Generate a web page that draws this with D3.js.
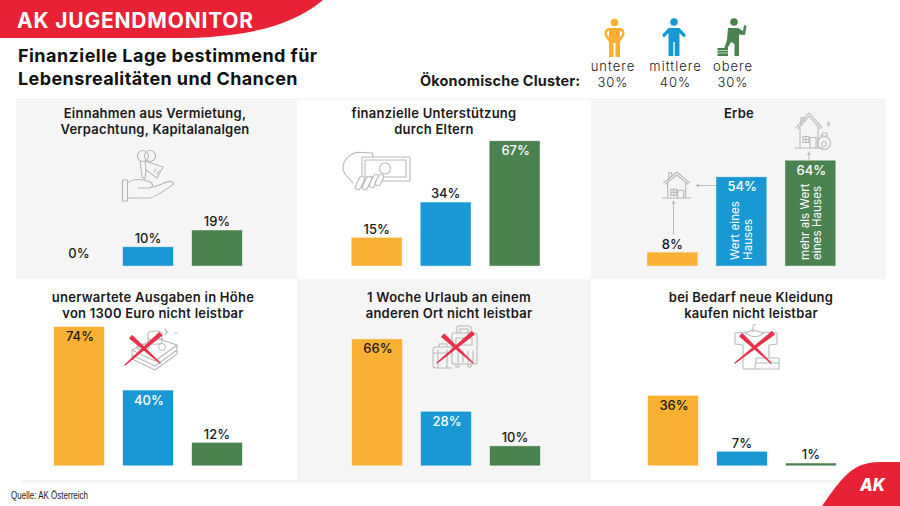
<!DOCTYPE html>
<html>
<head>
<meta charset="utf-8">
<script src="https://cdn.jsdelivr.net/npm/d3@7/dist/d3.min.js"></script>
<style>
  html, body { margin: 0; padding: 0; background: #fff; }
  svg { display: block; }
  text { font-family: Inter, "Open Sans", sans-serif; fill: #1a1a1a; }
</style>
</head>
<body>
<svg id="chart" width="900" height="506"></svg>
<script>
// Daten
const clusters = ['untere', 'mittlere', 'obere'];
const clusterShares = ['30%', '40%', '30%'];
const clusterColors = ['#fab133', '#1899d4', '#4a8350'];

const panelTitles = [
  ['Einnahmen aus Vermietung,', 'Verpachtung, Kapitalanalgen'],
  ['finanzielle Unterstützung', 'durch Eltern'],
  ['Erbe'],
  ['unerwartete Ausgaben in Höhe', 'von 1300 Euro nicht leistbar'],
  ['1 Woche Urlaub an einem', 'anderen Ort nicht leistbar'],
  ['bei Bedarf neue Kleidung', 'kaufen nicht leistbar']
];
const einnahmen = [0, 10, 19];
const unterstuetzung = [15, 34, 67];
const erbe = [8, 54, 64];
const ausgaben = [74, 40, 12];
const urlaub = [66, 28, 10];
const kleidung = [36, 7, 1];
const panelValues = [einnahmen, unterstuetzung, erbe, ausgaben, urlaub, kleidung];
// Label in den Balken?
const labelInside = [
  [false, false, false],
  [false, false, true],
  [false, true, true],
  [true, true, false],
  [true, true, false],
  [true, false, false]
];

// Layout der Felder
const layout = [
  { left: 54, base: 265.7, perCent: 1.86, titleX: 155, titleY: 118 },
  { left: 351.7, base: 265.7, perCent: 1.86, titleX: 434, titleY: 118 },
  { left: 647.3, base: 265.7, perCent: 1.64, titleX: 739, titleY: 118 },
  { left: 54, base: 465.3, perCent: 1.87, titleX: 153, titleY: 302 },
  { left: 352, base: 465.3, perCent: 1.91, titleX: 449, titleY: 302 },
  { left: 648, base: 465.3, perCent: 1.93, titleX: 751, titleY: 302 }
];

const svg = d3.select('#chart');
const grey = '#f5f5f5';
const red = '#e82134';
const iconGrey = '#b8b8b8';

// Hintergrund
svg.append('rect').attr('x', 16).attr('y', 98).attr('width', 870).attr('height', 181).attr('fill', grey);
svg.append('rect').attr('x', 297).attr('y', 100).attr('width', 294).attr('height', 179).attr('fill', '#fff');
svg.append('rect').attr('x', 297).attr('y', 279).attr('width', 294).attr('height', 204).attr('fill', grey);
svg.append('rect').attr('x', 22).attr('y', 480).attr('width', 868).attr('height', 3).attr('fill', grey);

// Kopfbereich
svg.append('path').attr('d', 'M0,0 H323 C290,28 240,38 175,38 H0 Z').attr('fill', red);
svg.append('text').attr('x', 17).attr('y', 28).text('AK JUGENDMONITOR')
  .style('fill', '#fff').style('font-size', '21px').style('font-weight', 700).style('letter-spacing', '0.8px');
svg.append('text').attr('x', 18).attr('y', 62).text('Finanzielle Lage bestimmend für')
  .style('font-size', '18px').style('font-weight', 700).style('fill', '#111').style('letter-spacing', '0.45px');
svg.append('text').attr('x', 18).attr('y', 85).text('Lebensrealitäten und Chancen')
  .style('font-size', '18px').style('font-weight', 700).style('fill', '#111').style('letter-spacing', '0.4px');
svg.append('text').attr('x', 420).attr('y', 86).text('Ökonomische Cluster:')
  .style('font-size', '14.5px').style('font-weight', 700).style('letter-spacing', '0.15px');

// Legende
const legendCentres = [613, 675.5, 733];
clusters.forEach((c, i) => {
  const g = svg.append('g').style('text-anchor', 'middle').style('font-size', '13px').style('font-weight', 300);
  g.append('text').attr('x', legendCentres[i]).attr('y', 70.5).text(c).style('letter-spacing', '1px');
  g.append('text').attr('x', legendCentres[i]).attr('y', 86.5).text(clusterShares[i]).style('letter-spacing', '1px');
});
drawPersons();

// Felder mit Balken
panelValues.forEach((values, p) => {
  const box = layout[p];
  const x = d3.scaleBand().domain(clusters).range([box.left, box.left + 188]).paddingInner(19 / 69);
  const y = d3.scaleLinear().domain([0, 100]).range([box.base, box.base - 100 * box.perCent]);
  const g = svg.append('g');

  g.selectAll('text.title').data(panelTitles[p]).enter().append('text')
    .attr('class', 'title')
    .attr('x', box.titleX)
    .attr('y', (d, i) => box.titleY + i * 15.5)
    .attr('text-anchor', 'middle')
    .text(d => d)
    .style('font-size', '13px')
    .style('font-weight', 600)
    .style('letter-spacing', '0.25px');

  g.selectAll('rect').data(values).enter().append('rect')
    .attr('x', (d, i) => x(clusters[i]))
    .attr('y', d => y(d))
    .attr('width', x.bandwidth())
    .attr('height', d => box.base - y(d))
    .attr('fill', (d, i) => clusterColors[i])
    .attr('stroke', (d, i) => clusterColors[i])
    .attr('stroke-opacity', d => d === 0 ? 0.3 : 0.5)
    .attr('stroke-width', 0.7);

  g.selectAll('text.value').data(values).enter().append('text')
    .attr('class', 'value')
    .attr('x', (d, i) => x(clusters[i]) + x.bandwidth() / 2 + (labelInside[p][i] ? 1 : 0))
    .attr('y', (d, i) => labelInside[p][i] ? y(d) + 14 : y(d) - (d === 0 ? 7.5 : 4))
    .attr('text-anchor', 'middle')
    .text(d => d + '%')
    .style('font-size', '13px')
    .style('font-weight', 500)
    .style('fill', (d, i) => labelInside[p][i] && i > 0 ? '#fff' : '#1a1a1a');
});

// Text in den Erbe-Balken
[['Wert eines', 738.5], ['Hauses', 751.5], ['mehr als Wert', 808.5], ['eines Hauses', 821]].forEach(t => {
  svg.append('text')
    .attr('transform', `translate(${t[1]},260) rotate(-90)`)
    .text(t[0])
    .style('fill', '#fff').style('font-size', '11.5px').style('font-weight', 400).style('letter-spacing', '0.1px');
});

drawIcons();

// Fuss
svg.append('text').attr('x', 11).attr('y', 499).text('Quelle: AK Österreich')
  .attr('textLength', 77).attr('lengthAdjust', 'spacingAndGlyphs')
  .style('font-family', '"Liberation Sans", sans-serif').style('font-size', '10px');
svg.append('path').attr('d', 'M822,506 C842,478 852,462 880,462 H900 V506 Z').attr('fill', red);
svg.append('text').attr('x', 860).attr('y', 491).text('AK')
  .attr('textLength', 25).attr('lengthAdjust', 'spacingAndGlyphs')
  .style('fill', '#fff').style('font-size', '18px').style('font-weight', 800).style('font-style', 'italic');

function drawPersons() {
  // untere
  const a = svg.append('g').attr('fill', clusterColors[0]).attr('stroke', clusterColors[0]);
  a.append('circle').attr('cx', 614.5).attr('cy', 22.5).attr('r', 3.8).attr('stroke', 'none');
  a.append('path').attr('stroke', 'none').attr('d', 'M609,28 H620 V57 H615.5 V43 H613.5 V57 H609 Z');
  a.append('path').attr('fill', 'none').attr('stroke-width', 2.6).attr('d', 'M609,29 Q604,31 606.5,36 L610,41 M620,29 Q625,31 622.5,36 L619,41');
  // mittlere
  const b = svg.append('g').attr('fill', clusterColors[1]);
  b.append('circle').attr('cx', 674).attr('cy', 22).attr('r', 3.8);
  b.append('path').attr('d', 'M668.5,28 H679.5 L686,35 L684,37.5 L679.5,33 V56 H674.7 V42 H673.3 V56 H668.5 V33 L664,37.5 L662,35 Z');
  // obere
  const c = svg.append('g').attr('fill', clusterColors[2]);
  c.append('circle').attr('cx', 734).attr('cy', 22).attr('r', 3.8);
  c.append('path').attr('d', 'M728,28 H738 L743,31 L744,25 L746.5,26 L745,35 L739,34.5 V56 H734.5 V44 L731,42 L727,49 H724 L727,40 Z');
  c.append('path').attr('d', 'M717.5,48 H728 V56 H717.5 Z');
  c.append('path').attr('d', 'M717,50.5 H729 M717,53 H729').attr('stroke', '#fff').attr('stroke-width', 0.6);
}

function iconPath(d) {
  return svg.append('path').attr('d', d).attr('fill', 'none').attr('stroke', iconGrey)
    .attr('stroke-width', 1.1).attr('stroke-linejoin', 'round').attr('stroke-linecap', 'round');
}

function cross(x1, y1, x2, y2) {
  // spitz zulaufender Strich
  const dx = x2 - x1, dy = y2 - y1, len = Math.hypot(dx, dy);
  const nx = -dy / len * 1.8, ny = dx / len * 1.8;
  svg.append('path')
    .attr('d', `M${x1 + nx},${y1 + ny} L${x2},${y2} L${x1 - nx},${y1 - ny} Z`)
    .attr('fill', '#e8304a').attr('stroke', '#e8304a').attr('stroke-width', 1.2).attr('stroke-linejoin', 'round');
}

function house(cx, top, w, h) {
  const l = cx - w / 2, r = cx + w / 2, eave = top + h * 0.42, base = top + h;
  iconPath(`M${l},${eave} L${cx},${top} L${r},${eave} M${l + 2},${eave + 1} L${cx},${top + 3} L${r - 2},${eave + 1}`);
  iconPath(`M${l + 4},${eave} V${base} M${r - 4},${eave} V${base} M${l - 1},${base} H${r + 1}`);
  iconPath(`M${cx + 1},${base} V${base - h * 0.3} H${cx + 7} V${base}`);
  iconPath(`M${l + 7},${base - h * 0.33} h6 v6 h-6 Z M${l + 10},${base - h * 0.33} v6 M${l + 7},${base - h * 0.33 + 3} h6`);
  iconPath(`M${l + 5},${eave - 3} v-7 h3 v4`);
}

function drawIcons() {
  // Schluessel auf Hand
  svg.append('circle').attr('cx', 143).attr('cy', 156).attr('r', 5.5).attr('fill', 'none').attr('stroke', iconGrey).attr('stroke-width', 1.1);
  svg.append('circle').attr('cx', 150).attr('cy', 156).attr('r', 5.5).attr('fill', 'none').attr('stroke', iconGrey).attr('stroke-width', 1.1);
  iconPath('M145,161 L163,167 L157,178 L146,170 Z M154,172 l2,-3 M157,174 l2,-3');
  iconPath('M140,161 L142,177 L145,179 L146,170');
  iconPath('M122.5,180 h5 v21 h-5 Z');
  iconPath('M127.5,183 C134,178 142,179 150,182 C154,184 153,188 148,188 H138 M127.5,198 H150 C158,196 166,189 174,184 C172,180 167,181 162,184 L153,187');

  // Geldschein in Hand
  iconPath('M362,157 H410 V181 H362 Z M365,160 H406 V177 H365 Z');
  svg.append('circle').attr('cx', 385).attr('cy', 168.5).attr('r', 5.5).attr('fill', 'none').attr('stroke', iconGrey).attr('stroke-width', 1.1);
  iconPath('M372.7,157 V153 L357,152.3 C351,154 346,158 344,163 C342,168 343,171 345,174 L353,183');
  [[358, 187, 362, 179], [365, 187, 369, 179], [372, 185, 376, 177], [378, 183, 381, 177]].forEach(f => {
    const d = `M${f[0]},${f[1]} L${f[2]},${f[3]}`;
    svg.append('path').attr('d', d).attr('stroke', iconGrey).attr('stroke-width', 6.4).attr('stroke-linecap', 'round');
    svg.append('path').attr('d', d).attr('stroke', '#fff').attr('stroke-width', 4.2).attr('stroke-linecap', 'round');
  });

  // kleines Haus, grosses Haus
  house(676.7, 172, 26, 26);
  house(809, 113, 26, 35);
  svg.append('ellipse').attr('cx', 824).attr('cy', 143).attr('rx', 6.5).attr('ry', 6.5).attr('fill', 'none').attr('stroke', iconGrey).attr('stroke-width', 1.1);
  iconPath('M821,136 L823,133 H827 L827,136 M822,136 H827 M827,124 l1.5,-2 l1.5,2 l-1.5,2 Z');
  svg.append('circle').attr('cx', 824).attr('cy', 144).attr('r', 2.5).attr('fill', 'none').attr('stroke', iconGrey);

  // Pfeile Erbe
  const arrow = svg.append('g').attr('stroke', '#bdbdbd').attr('fill', '#bdbdbd');
  arrow.append('path').attr('d', 'M716,185.5 H697').attr('stroke-width', 1);
  arrow.append('path').attr('d', 'M695,185.5 l4,-2 v4 Z').attr('stroke', 'none');
  arrow.append('path').attr('d', 'M673.5,235 V202').attr('stroke-width', 1);
  arrow.append('path').attr('d', 'M673.5,200 l-2,4 h4 Z').attr('stroke', 'none');
  arrow.append('path').attr('d', 'M809,160 V154').attr('stroke-width', 1);
  arrow.append('path').attr('d', 'M809,151 l-2,4 h4 Z').attr('stroke', 'none');

  // Geldstapel
  iconPath('M132,350 L156,338 L177,345 L155,361 Z M132,350 V355 L155,366 L177,350 V345 M132,355 V359 L155,370 L177,354 V350');
  iconPath('M148,334 C148,330 162,330 162,334 V342 C162,345 148,345 148,342 Z M148,338 C150,341 160,341 162,338');
  iconPath('M137,347 C137,343 149,343 149,347 C149,351 137,351 137,347 Z M165,329 l1,2 l2,1 l-2,1 l-1,2 M175,333 h2');
  svg.append('circle').attr('cx', 162).attr('cy', 347).attr('r', 3.5).attr('fill', 'none').attr('stroke', iconGrey);
  cross(131, 337, 160, 363);
  cross(160.5, 334, 125, 365);

  // Koffer
  iconPath('M452,335 Q452,333 454,333 H475 Q477,333 477,335 V362 Q477,364 475,364 H454 Q452,364 452,362 Z');
  iconPath('M457,333 V327 Q457,326 458,326 H469 Q471,326 471,328 V333 M460,333 V329 H468 V333');
  iconPath('M456,338 H472 V345 H456 Z M458,351 V362 M463,351 V362 M468,351 V362 M473,351 V362 M456,364 v3 h3 v-3 M468,364 v3 h3 v-3');
  iconPath('M452,347 H436 Q433,347 433,350 V365 Q433,368 436,368 H452 M439,347 V344 H447 V347 M433,353 H452 M438,350 V368 M447,350 V368');
  cross(443, 335.5, 473, 363);
  cross(473, 333, 437, 363);

  // Shirt mit Buegel
  iconPath('M753,332 V327 Q753,324 755.5,324.5 M745,333 L753,330 L764,333');
  iconPath('M745,332 L735,333 V344 L743,345 V368 Q743,369 745,369 H755 M764,332 L777,333 V344 L769,345 V357 M745,332 C750,338 760,338 764,332');
  iconPath('M756,358 H779 V363 H756 Z M756,363 Q754,366 756,369 H779 V363');
  cross(741, 335, 771, 363);
  cross(773, 333, 735, 363);
}
</script>
</body>
</html>
